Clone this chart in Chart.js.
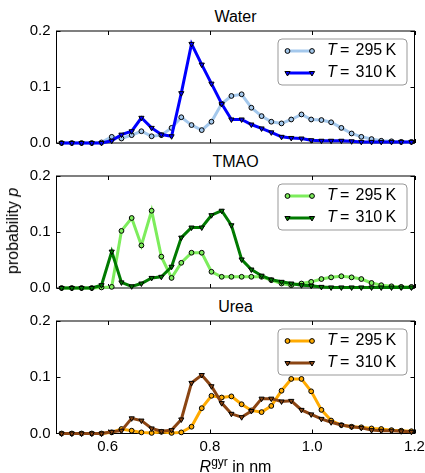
<!DOCTYPE html>
<html>
<head>
<meta charset="utf-8">
<script src="https://cdn.jsdelivr.net/npm/chart.js@4.4.1/dist/chart.umd.min.js"></script>
<style>
  body { margin: 0; background: #fff; overflow: hidden; }
  #wrap { position: relative; width: 425px; height: 473px; overflow: hidden;
          font-family: "Liberation Sans", Arial, sans-serif; color: #000; }
  #wrap canvas { position: absolute; left: 0; }
  .ptitle { position: absolute; left: 56.5px; width: 358px; text-align: center;
            font-size: 16px; line-height: 16px; }
  #ylab { position: absolute; left: 13px; top: 231px; font-size: 16px; white-space: nowrap;
          transform: translate(-50%, -50%) rotate(-90deg); }
  #xlab { position: absolute; left: 56.5px; width: 358px; top: 454px; text-align: center;
          font-size: 16px; line-height: 16px; }
  #xlab sup { font-size: 12px; vertical-align: 6px; }
</style>
</head>
<body>
<div id="wrap">
  <div class="ptitle" style="top:9px">Water</div>
  <div class="ptitle" style="top:154px">TMAO</div>
  <div class="ptitle" style="top:299px">Urea</div>
  <canvas id="c0" width="445" height="142" style="top:16px"></canvas>
  <canvas id="c1" width="445" height="142" style="top:161px"></canvas>
  <canvas id="c2" width="445" height="166" style="top:306px"></canvas>
  <div id="ylab">probability <i>p</i></div>
  <div id="xlab"><i>R</i><sup>gyr</sup> in nm</div>
</div>
<script>
// bin centres of the radius of gyration histogram (nm)
const rgyr = [0.510, 0.530, 0.549, 0.569, 0.588, 0.608, 0.627, 0.647, 0.666, 0.686,
              0.705, 0.725, 0.744, 0.764, 0.784, 0.803, 0.823, 0.842, 0.862, 0.881,
              0.901, 0.920, 0.940, 0.959, 0.979, 0.998, 1.018, 1.037, 1.057, 1.077,
              1.096, 1.116, 1.135, 1.155, 1.174, 1.194];

const water295 = [0, 0, 0, 0, 0.001, 0.011, 0.008, 0.014, 0.021, 0.012, 0.014, 0.027,
                  0.046, 0.032, 0.023, 0.038, 0.070, 0.084, 0.087, 0.063, 0.048, 0.038,
                  0.035, 0.042, 0.051, 0.042, 0.041, 0.037, 0.027, 0.017, 0.011, 0.007,
                  0.004, 0.003, 0.002, 0.002];
const water310 = [0, 0, 0, 0, 0, 0.004, 0.015, 0.021, 0.045, 0.027, 0.015, 0.012,
                  0.089, 0.177, 0.140, 0.106, 0.070, 0.042, 0.042, 0.033, 0.026, 0.019,
                  0.011, 0.009, 0.008, 0.005, 0.004, 0.004, 0.004, 0.003, 0.002, 0.002,
                  0.002, 0.002, 0.002, 0.002];
const tmao295 = [0, 0, 0, 0, 0.001, 0.002, 0.102, 0.125, 0.076, 0.138, 0.056, 0.018,
                 0.045, 0.063, 0.063, 0.029, 0.020, 0.020, 0.020, 0.020, 0.020, 0.014,
                 0.008, 0.005, 0.008, 0.011, 0.016, 0.019, 0.021, 0.019, 0.016, 0.009,
                 0.005, 0.003, 0.002, 0.002];
const tmao310 = [0, 0, 0, 0, 0.005, 0.065, 0.010, 0.003, 0.008, 0.018, 0.020, 0.038,
                 0.090, 0.108, 0.108, 0.130, 0.138, 0.112, 0.051, 0.033, 0.022, 0.015,
                 0.011, 0.008, 0.005, 0.004, 0.002, 0.001, 0.001, 0.001, 0.001, 0.001,
                 0.001, 0.001, 0.001, 0.001];
const urea295 = [0, 0, 0, 0, 0, 0.002, 0.008, 0.005, 0.002, 0.001, 0.003, 0.001,
                 0.002, 0.012, 0.045, 0.067, 0.064, 0.066, 0.052, 0.041, 0.038, 0.049,
                 0.076, 0.097, 0.097, 0.075, 0.042, 0.023, 0.015, 0.012, 0.011, 0.009,
                 0.008, 0.006, 0.005, 0.004];
const urea310 = [0, 0, 0, 0, 0, 0.003, 0.005, 0.027, 0.023, 0.009, 0.004, 0.006,
                 0.025, 0.090, 0.104, 0.084, 0.054, 0.035, 0.029, 0.040, 0.062, 0.062,
                 0.057, 0.058, 0.042, 0.034, 0.026, 0.020, 0.015, 0.012, 0.010, 0.006,
                 0.005, 0.005, 0.004, 0.003];

const temps = ['295', '310'];
const xTicks = [0.6, 0.8, 1.0, 1.2];
const yTicks = [0.0, 0.1, 0.2];

Chart.defaults.font.family = '"Liberation Sans", Arial, sans-serif';
Chart.defaults.font.size = 15;
Chart.defaults.color = '#000';

// matplotlib-like frame with inward ticks
const frameTicks = {
  id: 'frameTicks',
  beforeDatasetsDraw(chart) {
    const ctx = chart.ctx, a = chart.chartArea;
    const x = chart.scales.x, y = chart.scales.y;
    ctx.save();
    ctx.strokeStyle = '#000';
    ctx.lineWidth = 1;
    ctx.strokeRect(a.left, a.top, a.right - a.left, a.bottom - a.top);
    ctx.beginPath();
    xTicks.forEach(v => {
      const px = Math.round(x.getPixelForValue(v)) + 0.5;
      ctx.moveTo(px, a.bottom); ctx.lineTo(px, a.bottom - 4);
      ctx.moveTo(px, a.top); ctx.lineTo(px, a.top + 4);
    });
    yTicks.forEach(v => {
      const py = Math.round(y.getPixelForValue(v) - 0.5) + 0.5;
      ctx.moveTo(a.left, py); ctx.lineTo(a.left + 4, py);
      ctx.moveTo(a.right, py); ctx.lineTo(a.right - 4, py);
    });
    ctx.stroke();
    ctx.restore();
  }
};

// legend box: line sample with a marker at each end, "T = 295 K"
const boxLegend = {
  id: 'boxLegend',
  afterDatasetsDraw(chart) {
    const ctx = chart.ctx, a = chart.chartArea;
    const bw = 129, bh = 46;
    const bx = a.right - 7.5 - bw, by = a.top + 8;
    ctx.save();
    ctx.beginPath();
    ctx.roundRect(bx, by, bw, bh, 4);
    ctx.fillStyle = 'rgba(255,255,255,0.9)';
    ctx.fill();
    ctx.strokeStyle = '#999';
    ctx.lineWidth = 1;
    ctx.stroke();
    chart.data.datasets.forEach((ds, i) => {
      const ry = by + 12 + i * 22;
      ctx.strokeStyle = ds.borderColor;
      ctx.lineWidth = ds.borderWidth;
      ctx.beginPath();
      ctx.moveTo(bx + 9.5, ry); ctx.lineTo(bx + 34, ry);
      ctx.stroke();
      [bx + 9.5, bx + 34].forEach(px => {
        ctx.fillStyle = ds.pointBackgroundColor;
        ctx.strokeStyle = ds.pointBorderColor;
        ctx.lineWidth = ds.pointBorderWidth;
        Chart.helpers.drawPoint(ctx, {
          pointStyle: ds.pointStyle, rotation: ds.pointRotation || 0,
          radius: ds.pointRadius, borderWidth: ds.pointBorderWidth
        }, px, ry);
      });
      ctx.fillStyle = '#000';
      ctx.textBaseline = 'middle';
      ctx.textAlign = 'left';
      ctx.font = 'italic 16px "Liberation Sans", Arial, sans-serif';
      ctx.fillText('T', bx + 49, ry);
      ctx.font = '16px "Liberation Sans", Arial, sans-serif';
      ctx.fillText('=', bx + 62, ry);
      ctx.fillText(temps[i], bx + 77.5, ry);
      ctx.fillText('K', bx + 107.5, ry);
    });
    ctx.restore();
  }
};

function series(vals, color, marker) {
  const tri = marker === 'tri';
  return {
    data: rgyr.map((r, i) => ({ x: r, y: vals[i] })),
    borderColor: color,
    borderWidth: 3,
    tension: 0,
    pointStyle: tri ? 'triangle' : 'circle',
    pointRotation: tri ? 180 : 0,
    pointRadius: tri ? 3 : 2.4,
    pointBackgroundColor: color,
    pointBorderColor: '#000',
    pointBorderWidth: 1,
    order: tri ? 1 : 2,
    clip: 6
  };
}

function panel(id, v295, v310, c295, c310, showX) {
  new Chart(document.getElementById(id), {
    type: 'line',
    data: { datasets: [series(v295, c295, 'circ'), series(v310, c310, 'tri')] },
    options: {
      responsive: false,
      animation: false,
      layout: { padding: { top: 12.5, right: 30.5, bottom: 0, left: 0 } },
      plugins: { legend: { display: false }, tooltip: { enabled: false } },
      scales: {
        x: {
          type: 'linear', min: 0.5, max: 1.2,
          grid: { display: false, drawTicks: true, tickLength: 4 },
          border: { display: false },
          afterBuildTicks: s => { s.ticks = xTicks.map(v => ({ value: v })); },
          afterFit: s => { s.height = showX ? 38.5 : 14.5; },
          ticks: { display: showX, padding: 0, maxRotation: 0,
                   callback: v => v.toFixed(1) }
        },
        y: {
          min: 0, max: 0.2,
          grid: { display: false, drawTicks: false },
          border: { display: false },
          afterBuildTicks: s => { s.ticks = yTicks.map(v => ({ value: v })); },
          afterFit: s => { s.width = 56.5; },
          ticks: { padding: 6, callback: v => v.toFixed(1) }
        }
      }
    },
    plugins: [frameTicks, boxLegend]
  });
}

panel('c0', water295, water310, '#a4c8ec', '#0000ff', false);
panel('c1', tmao295, tmao310, '#7ded5c', '#007a00', false);
panel('c2', urea295, urea310, '#ffaa00', '#8b4513', true);
</script>
</body>
</html>
